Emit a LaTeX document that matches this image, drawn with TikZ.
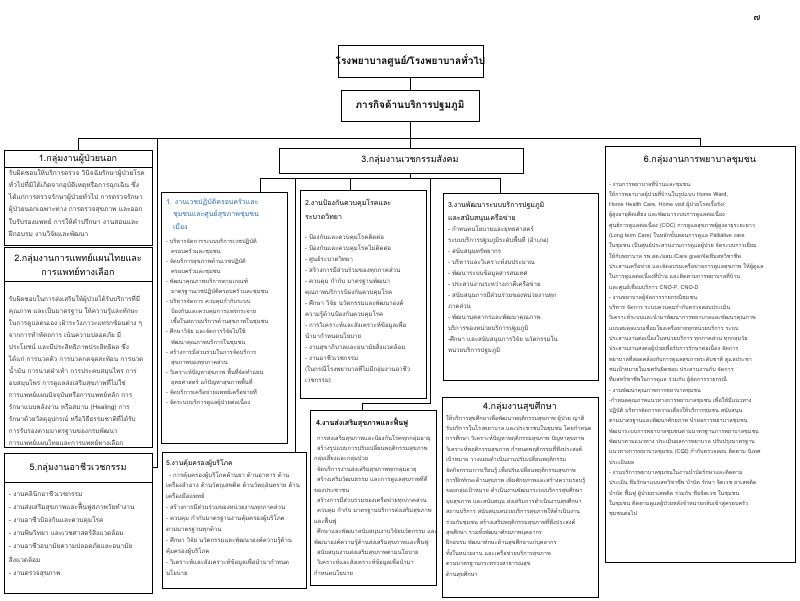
\documentclass[tikz,border=0pt]{standalone}
\usepackage{fontspec}
\newfontfamily\thf[Script=Thai]{Loma}
\definecolor{tblue}{RGB}{46,110,180}
\definecolor{tgray}{RGB}{55,55,55}
\tikzset{
  bx/.style={draw, line width=0.7pt, inner sep=0pt, outer sep=0pt, anchor=north west},
  hd/.style={inner sep=0pt, font=\thf\fontsize{9}{14}\selectfont, align=center},
  bt/.style={inner sep=0pt, outer sep=0pt, anchor=north west, align=left, text=tgray},
  ln/.style={line width=0.7pt},
}
\newcommand{\fl}{\vrule width 0pt height 8pt\relax}
\begin{document}
\begin{tikzpicture}[x=1pt,y=-1pt]
\useasboundingbox (0,0) rectangle (800,600);
\fill[white] (0,0) rectangle (800,600);

\node[font=\thf\fontsize{9}{10}\selectfont] (pg) at (757,18) {๗};

% top boxes
\node[bx, minimum width=145pt, minimum height=32pt] (A) at (338,45) {};
\node[hd, font=\thf\bfseries\fontsize{10}{12}\selectfont] (At) at (A.center) {โรงพยาบาลศูนย์/โรงพยาบาลทั่วไป};
\node[bx, minimum width=138pt, minimum height=31pt] (B) at (341,90) {};
\node[hd, font=\thf\bfseries\fontsize{10}{12}\selectfont] (Bt) at (B.center) {ภารกิจด้านบริการปฐมภูมิ};

% left column
\node[bx, minimum width=148pt, minimum height=17pt] (b1h) at (4,150) {};
\node[hd] (b1t) at (b1h.center) {1.กลุ่มงานผู้ป่วยนอก};
\node[bx, minimum width=148pt, minimum height=78pt] (b1) at (4,167) {};
\node[bt, font=\thf\fontsize{6.6}{12.3}\selectfont] (b1x) at (9,167) {\fl รับผิดชอบให้บริการตรวจ วินิจฉัยรักษาผู้ป่วยโรค\\
ทั่วไปที่มิได้เกิดจากอุบัติเหตุหรือการฉุกเฉิน ซึ่ง\\
ได้แก่การตรวจรักษาผู้ป่วยทั่วไป การตรวจรักษา\\
ผู้ป่วยนอกเฉพาะทาง การตรวจสุขภาพ และออก\\
ใบรับรองแพทย์ การให้คำปรึกษา งานสอนและ\\
ฝึกอบรม งานวิจัยและพัฒนา};

\node[bx, minimum width=148pt, minimum height=34pt] (b2h) at (4,247) {};
\node[hd] (b2t) at (b2h.center) {2.กลุ่มงานการแพทย์แผนไทยและ\\การแพทย์ทางเลือก};
\node[bx, minimum width=148pt, minimum height=166pt] (b2) at (4,281) {};
\node[bt, font=\thf\fontsize{6.4}{12}\selectfont] (b2x) at (9,293) {\fl รับผิดชอบในการส่งเสริมให้ผู้ป่วยได้รับบริการที่มี\\
คุณภาพ และเป็นมาตรฐาน ให้ความรู้และทักษะ\\
ในการดูแลตนเอง เฝ้าระวังภาวะแทรกซ้อนต่าง ๆ\\
จากการทำหัตถการ เน้นความปลอดภัย มี\\
ประโยชน์ และมีประสิทธิภาพประสิทธิผล ซึ่ง\\
ได้แก่ การนวดตัว การนวดกดจุดสะท้อน การนวด\\
น้ำมัน การนวดฝ่าเท้า การประคบสมุนไพร การ\\
อบสมุนไพร การดูแลส่งเสริมสุขภาพที่ไม่ใช่\\
การแพทย์แผนปัจจุบันหรือการแพทย์หลัก การ\\
รักษาแบบพลังงาน หรือสมาน (Healing) การ\\
รักษาด้วยวัสดุอุปกรณ์ หรือวิธีธรรมชาติที่ได้รับ\\
การรับรองตามมาตรฐานของกรมพัฒนา\\
การแพทย์แผนไทยและการแพทย์ทางเลือก};

\node[bx, minimum width=148pt, minimum height=29pt] (b5h) at (4,453) {};
\node[hd] (b5t) at (b5h.center) {5.กลุ่มงานอาชีวเวชกรรม};
\node[bx, minimum width=148pt, minimum height=111pt] (b5) at (4,482) {};
\node[bt, font=\thf\fontsize{6.5}{13.2}\selectfont] (b5x) at (9,488) {\fl - งานคลินิกอาชีวเวชกรรม\\
- งานส่งเสริมสุขภาพและฟื้นฟูสภาพวัยทำงาน\\
- งานอาชีวป้องกันและควบคุมโรค\\
- งานพิษวิทยา และเวชศาสตร์สิ่งแวดล้อม\\
- งานอาชีวอนามัยความปลอดภัยและอนามัย\\
สิ่งแวดล้อม\\
- งานตรวจสุขภาพ};

% group 3
\node[bx, minimum width=244pt, minimum height=25pt] (b3) at (279,148) {};
\node[hd] (b3t) at (410,160.5) {3.กลุ่มงานเวชกรรมสังคม};

\node[bx, minimum width=126pt, minimum height=251pt] (b31) at (161,192) {};
\node[bt, text=tblue, font=\thf\fontsize{7}{12.5}\selectfont] (b31a) at (166,196) {\fl 1. งานเวชปฏิบัติครอบครัวและ\\
\hspace*{7pt}ชุมชนและศูนย์สุขภาพชุมชน\\
\hspace*{7pt}เมือง};
\node[bt, font=\thf\fontsize{5.7}{10.1}\selectfont] (b31b) at (166,235) {\fl - บริหารจัดการระบบบริการเวชปฏิบัติ\\
\hspace*{5pt}ครอบครัวและชุมชน\\
- จัดบริการสุขภาพด้านเวชปฏิบัติ\\
\hspace*{5pt}ครอบครัวและชุมชน\\
- พัฒนาคุณภาพบริการตามเกณฑ์\\
\hspace*{5pt}มาตรฐานเวชปฏิบัติครอบครัวและชุมชน\\
- บริหารจัดการ ควบคุมกำกับระบบ\\
\hspace*{5pt}ป้องกันและควบคุมการแพร่กระจาย\\
\hspace*{5pt}เชื้อในสถานบริการด้านสุขภาพในชุมชน\\
- ศึกษาวิจัย และจัดการวิจัยไปใช้\\
\hspace*{5pt}พัฒนาคุณภาพบริการในชุมชน\\
- สร้างการมีส่วนร่วมในการจัดบริการ\\
\hspace*{5pt}สุขภาพของทุกภาคส่วน\\
- วิเคราะห์ปัญหาสุขภาพ พื้นที่จัดทำแผน\\
\hspace*{5pt}ยุทธศาสตร์ แก้ปัญหาสุขภาพพื้นที่\\
- จัดบริการเครือข่ายแพทย์เครือข่ายที่\\
- จัดระบบบริการดูแลผู้ป่วยต่อเนื่อง};

\node[bx, minimum width=126pt, minimum height=208pt] (b32) at (300,190) {};
\node[bt, text=black, font=\thf\fontsize{7}{14}\selectfont] (b32a) at (305,197) {\fl 2.งานป้องกันควบคุมโรคและ\\ระบาดวิทยา};
\node[bt, font=\thf\fontsize{6.1}{11}\selectfont] (b32b) at (305,231) {\fl - ป้องกันและควบคุมโรคติดต่อ\\
- ป้องกันและควบคุมโรคไม่ติดต่อ\\
- ศูนย์ระบาดวิทยา\\
- สร้างการมีส่วนร่วมของทุกภาคส่วน\\
- ควบคุม กำกับ มาตรฐานพัฒนา\\
คุณภาพบริการป้องกันควบคุมโรค\\
- ศึกษา วิจัย นวัตกรรมและพัฒนาองค์\\
ความรู้ด้านป้องกันควบคุมโรค\\
- การวิเคราะห์และสังเคราะห์ข้อมูลเพื่อ\\
นำมากำหนดนโยบาย\\
- งานสุขาภิบาลและอนามัยสิ่งแวดล้อม\\
- งานอาชีวเวชกรรม\\
(ในกรณีโรงพยาบาลที่ไม่มีกลุ่มงานอาชีว\\
เวชกรรม)};

\node[bx, minimum width=155pt, minimum height=187pt] (b33) at (443,193) {};
\node[bt, text=black, font=\thf\fontsize{7}{13}\selectfont] (b33a) at (448,199) {\fl 3.งานพัฒนาระบบบริการปฐมภูมิ\\และสนับสนุนเครือข่าย};
\node[bt, font=\thf\fontsize{6.1}{11}\selectfont] (b33b) at (448,223) {\fl - กำหนดนโยบายและยุทธศาสตร์\\
ระบบบริการปฐมภูมิระดับพื้นที่ (อำเภอ)\\
- สนับสนุนทรัพยากร\\
- บริหารและวิเคราะห์งบประมาณ\\
- พัฒนาระบบข้อมูลสารสนเทศ\\
- ประสานงานระหว่างภาคีเครือข่าย\\
- สนับสนุนการมีส่วนร่วมของหน่วยงานทุก\\
ภาคส่วน\\
- พัฒนาบุคลากรและพัฒนาคุณภาพ\\
บริการของหน่วยบริการปฐมภูมิ\\
-ศึกษา และสนับสนุนการวิจัย นวัตกรรมใน\\
หน่วยบริการปฐมภูมิ};

\node[bx, minimum width=126pt, minimum height=175pt] (b34) at (310,410) {};
\node[bt, text=black, font=\thf\bfseries\fontsize{7.2}{12}\selectfont] (b34a) at (316,417) {\fl 4.งานส่งเสริมสุขภาพและฟื้นฟู};
\node[bt, font=\thf\fontsize{5.8}{10.4}\selectfont] (b34b) at (314,432) {\fl \hspace*{3pt}การส่งเสริมสุขภาพและป้องกันโรคทุกกลุ่มอายุ\\
\hspace*{3pt}สร้างรูปแบบการปรับเปลี่ยนพฤติกรรมสุขภาพ\\
กลุ่มเสี่ยงและกลุ่มป่วย\\
\hspace*{3pt}จัดบริการงานส่งเสริมสุขภาพทุกกลุ่มอายุ\\
\hspace*{3pt}สร้างเสริมวัฒนธรรม และการดูแลสุขภาพที่ดี\\
ของประชาชน\\
\hspace*{3pt}สร้างการมีส่วนร่วมของเครือข่ายทุกภาคส่วน\\
\hspace*{3pt}ควบคุม กำกับ มาตรฐานบริการส่งเสริมสุขภาพ\\
และฟื้นฟู\\
\hspace*{3pt}ศึกษาและพัฒนาสนับสนุนงานวิจัยนวัตกรรม และ\\
พัฒนาองค์ความรู้ด้านส่งเสริมสุขภาพและฟื้นฟู\\
\hspace*{3pt}สนับสนุนงานส่งเสริมสุขภาพตามนโยบาย\\
\hspace*{3pt}วิเคราะห์และสังเคราะห์ข้อมูลเพื่อนำมา\\
กำหนดนโยบาย};

\node[bx, minimum width=144pt, minimum height=136pt] (b35) at (162,452) {};
\node[bt, text=black, font=\thf\fontsize{6.8}{12}\selectfont] (b35a) at (166,457) {\fl 5.งานคุ้มครองผู้บริโภค};
\node[bt, font=\thf\fontsize{6}{10.9}\selectfont] (b35b) at (166,469) {\fl \hspace*{3pt}- การคุ้มครองผู้บริโภคด้านยา ด้านอาหาร ด้าน\\
เครื่องสำอาง ด้านวัตถุเสพติด ด้านวัตถุอันตราย ด้าน\\
เครื่องมือแพทย์\\
- สร้างการมีส่วนร่วมของหน่วยงานทุกภาคส่วน\\
- ควบคุม กำกับมาตรฐานงานคุ้มครองผู้บริโภค\\
ตามมาตรฐานทุกด้าน\\
- ศึกษา วิจัย นวัตกรรมและพัฒนาองค์ความรู้ด้าน\\
คุ้มครองผู้บริโภค\\
- วิเคราะห์และสังเคราะห์ข้อมูลเพื่อนำมากำหนด\\
นโยบาย};

% group 4
\node[bx, minimum width=156pt, minimum height=200pt] (b4) at (442,397) {};
\node[hd] (b4t) at (520,407) {4.กลุ่มงานสุขศึกษา};
\node[bt, font=\thf\fontsize{5.6}{10.4}\selectfont] (b4x) at (446,412) {\fl ให้บริการสุขศึกษาเพื่อพัฒนาพฤติกรรมสุขภาพ ผู้ป่วย ญาติ\\
รับบริการในโรงพยาบาล และประชาชนในชุมชน โดยกำหนด\\
การศึกษา วิเคราะห์ปัญหาพฤติกรรมสุขภาพ ปัญหาสุขภาพ\\
วิเคราะห์พฤติกรรมสุขภาพ กำหนดพฤติกรรมที่พึงประสงค์\\
เป้าหมาย วางแผนดำเนินงานปรับเปลี่ยนพฤติกรรม\\
จัดกิจกรรมการเรียนรู้ เพื่อปรับเปลี่ยนพฤติกรรมสุขภาพ\\
การฝึกทักษะด้านสุขภาพ เพิ่มศักยภาพและสร้างความรอบรู้\\
ของกลุ่มเป้าหมาย ดำเนินงานพัฒนาระบบบริการสุขศึกษา\\
มุมสุขภาพ และสนับสนุน ส่งเสริมการดำเนินงานสุขศึกษา\\
สถานบริการ สนับสนุนหน่วยบริการสุขภาพให้ดำเนินงาน\\
ร่วมกับชุมชน สร้างเสริมพฤติกรรมสุขภาพที่พึงประสงค์\\
สุขศึกษา รวมทั้งพัฒนาศักยภาพบุคลากร\\
ฝึกอบรม พัฒนาทักษะด้านสุขศึกษาแก่บุคลากร\\
ทั้งในหน่วยงาน และเครือข่ายบริการสุขภาพ\\
ตามมาตรฐานกระทรวงสาธารณสุข\\
ด้านสุขศึกษา};

% group 6
\node[bx, minimum width=190pt, minimum height=416pt] (b6) at (605,146) {};
\node[hd] (b6t) at (700,160) {6.กลุ่มงานการพยาบาลชุมชน};
\node[bt, font=\thf\fontsize{5.5}{10.3}\selectfont] (b6x) at (609,178) {\fl - งานการพยาบาลที่บ้านและชุมชน\\
ให้การพยาบาลผู้ป่วยที่บ้านในรูปแบบ Home Ward,\\
Home Health Care, Home visit ผู้ป่วยโรคเรื้อรัง/\\
ผู้สูงอายุติดเตียง และพัฒนาระบบการดูแลต่อเนื่อง\\
ศูนย์การดูแลต่อเนื่อง (COC) การดูแลสุขภาพผู้สูงอายุระยะยาว\\
(Long term Care) ในหลักขั้นตอนการดูแล Palliative care\\
ในชุมชน เป็นศูนย์ประสานงานการดูแลผู้ป่วย จัดระบบการเยี่ยม\\
ให้กับพยาบาล รพ.สต./อสม./Care giver/จัดทีมสหวิชาชีพ\\
ประสานเครือข่าย และจัดอบรมเครือข่ายการดูแลสุขภาพ ให้ผู้ดูแล\\
ในการดูแลต่อเนื่องที่บ้าน และติดตามการพยาบาลที่บ้าน\\
และศูนย์เชื่อมบริการ CNO-P, CNO-D\\
- งานพยาบาลผู้จัดการรายกรณีชุมชน\\
บริหาร จัดการ ระบบควบคุมกำกับตรวจสอบประเมิน\\
วิเคราะห์ระบบและนำมาพัฒนาการพยาบาลและพัฒนาคุณภาพ\\
แบบสมดุลแบบเชื่อมโยงเครือข่ายทุกหน่วยบริการ ระบบ\\
ประสานงานต่อเนื่องในหน่วยบริการ ทุกภาคส่วน ทุกกลุ่มวัย\\
ประสานงานส่งต่อผู้ป่วยเพื่อรับการรักษาต่อเนื่อง จัดการ\\
พยาบาลที่สอดคล้องกับการดูแลสุขภาพระดับชาติ ดูแลประชา\\
ชนเป้าหมายในเขตรับผิดชอบ ประสานงานกับ จัดการ\\
ทีมสหวิชาชีพในการดูแล ร่วมกับ ผู้จัดการรายกรณี\\
- งานพัฒนาคุณภาพการพยาบาลชุมชน\\
-กำหนดคุณภาพแนวทางการพยาบาลชุมชน เพื่อให้มีแนวทาง\\
ปฏิบัติ บริหารจัดการความเสี่ยงให้บริการชุมชน สนับสนุน\\
ตามมาตรฐานและพัฒนาศักยภาพ นำผลการพยาบาลชุมชน\\
พัฒนาระบบการพยาบาลชุมชนตามมาตรฐานการพยาบาลชุมชน\\
พัฒนาตามแนวทาง ประเมินผลการพยาบาล ปรับปรุงมาตรฐาน\\
แนวทางการพยาบาลชุมชน (CQI) กำกับตรวจสอบ ติดตาม นิเทศ\\
ประเมินผล\\
- งานบริการพยาบาลชุมชนในงานบำบัดรักษาและติดตาม\\
ประเมิน ทีมรักษาแบบสหวิชาชีพ บำบัด รักษา จิตเวช ยาเสพติด\\
บำบัด ฟื้นฟู ผู้ป่วยยาเสพติด ร่วมกับ ทีมจิตเวช ในชุมชน\\
ในชุมชน ติดตามดูแลผู้ป่วยหลังจำหน่ายกลับเข้าสู่ครอบครัว\\
ชุมชนต่อไป};

% connectors
\coordinate (barR) at (700,138);
\coordinate (j5) at (157,138);
\coordinate (m0) at (410,178);
\coordinate (m1) at (260,178);
\coordinate (m2) at (295,178);
\coordinate (m3) at (350,178);
\coordinate (m4) at (430,178);
\coordinate (m4b) at (430,403);
\coordinate (m4c) at (362,403);
\coordinate (m5) at (500,178);

\draw[ln] (A.south) -- (A.south |- B.north);
\draw[ln] (B.south) -- (B.south |- b3.north);
\draw[ln] (b1h.north) |- (barR) -- (b6.north);
\draw[ln] (j5) |- (b5h.east);
\draw[ln] (m0 |- b3.south) -- (m0);
\draw[ln] (m1) -- (m5);
\draw[ln] (m1) -- (m1 |- b31.north);
\draw[ln] (m2) -- (m2 |- b35.north);
\draw[ln] (m3) -- (m3 |- b32.north);
\draw[ln] (m4) -- (m4b) -- (m4c) -- (m4c |- b34.north);
\draw[ln] (m5) -- (m5 |- b33.north);
\end{tikzpicture}
\end{document}
